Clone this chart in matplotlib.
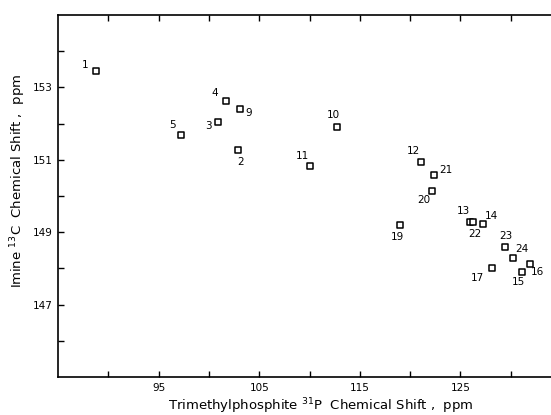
import numpy as np
import matplotlib
matplotlib.use("Agg")
import matplotlib.pyplot as plt

# compound numbers and shifts
labels = ["1", "2", "3", "4", "5", "9", "10", "11", "12", "13", "14", "15",
          "16", "17", "19", "20", "21", "22", "23", "24"]
p31 = [88.8, 102.9, 100.9, 101.7, 97.2, 103.1, 112.7, 110.0, 121.1, 126.0,
       127.2, 131.1, 131.9, 128.1, 119.0, 122.2, 122.4, 126.3, 129.4, 130.2]
c13 = [153.45, 151.26, 152.04, 152.62, 151.69, 152.40, 151.90, 150.82, 150.93,
       149.29, 149.24, 147.89, 148.13, 148.00, 149.21, 150.14, 150.58, 149.27,
       148.58, 148.28]

# label offsets in pixels (dx, dy), positive dy = up
offsets = {"1": (-11, 6), "2": (2, -12), "3": (-9, -4), "4": (-11, 8),
           "5": (-8, 10), "9": (9, -4), "10": (-3, 12), "11": (-7, 10),
           "12": (-8, 11), "13": (-7, 11), "14": (9, 8), "15": (-3, -10),
           "16": (8, -8), "17": (-14, -10), "19": (-3, -12), "20": (-8, -9),
           "21": (12, 5), "22": (1, -12), "23": (1, 11), "24": (9, 9)}

x_ticks = [90, 95, 100, 105, 110, 115, 120, 125, 130]
x_ticklabels = ["", "95", "", "105", "", "115", "", "125", ""]
y_ticks = [146, 147, 148, 149, 150, 151, 152, 153, 154]
y_ticklabels = ["", "147", "", "149", "", "151", "", "153", ""]

plt.rcParams['font.family'] = ['DejaVu Sans']
fig = plt.figure(figsize=(5.51, 4.15), dpi=100)
W, H = 551, 415
left, right, top, bottom = 58, 561, 15, 377
ax = fig.add_axes([left / W, 1 - bottom / H, (right - left) / W, (bottom - top) / H])
ax.set_xlim(85, 135)
ax.set_ylim(145, 155)

ax.scatter(p31, c13, marker='s', s=18, facecolors='white', edgecolors='black',
           linewidths=1.1, zorder=3)
for lab, x, y in zip(labels, p31, c13):
    dx, dy = offsets[lab]
    ax.annotate(lab, (x, y), xytext=(dx, dy), textcoords='offset pixels',
                ha='center', va='center', fontsize=7.5)

ax.set_xticks(x_ticks)
ax.set_xticklabels(x_ticklabels, fontsize=7.5)
ax.set_yticks(y_ticks)
ax.set_yticklabels(y_ticklabels, fontsize=7.5)
ax.tick_params(direction='in', length=4, width=1, top=True, right=False, pad=4)
for s in ax.spines.values():
    s.set_linewidth(1.2)

fig.text(321 / W, 1 - 406 / H, "Trimethylphosphite $^{31}$P  Chemical Shift ,  ppm",
         ha='center', va='center', fontsize=9.5)
fig.text(18 / W, 1 - 181 / H, "Imine $^{13}$C  Chemical Shift ,  ppm",
         ha='center', va='center', rotation=90, fontsize=9.5)

fig.savefig("out.png", dpi=100)
